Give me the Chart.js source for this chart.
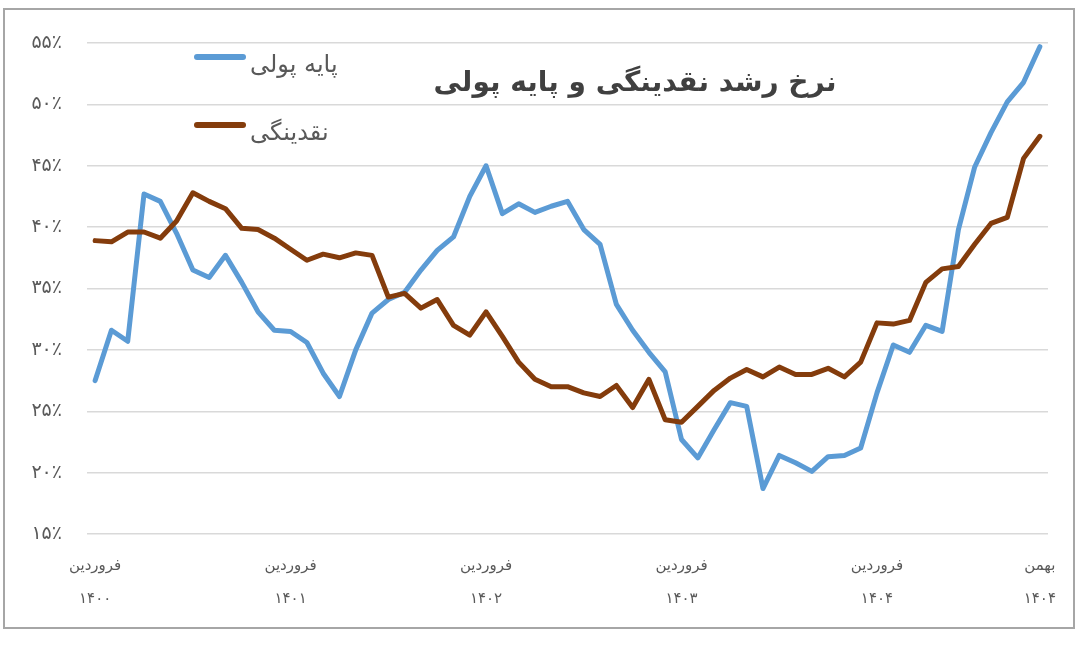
<!DOCTYPE html>
<html>
<head>
<meta charset="utf-8">
<script src="https://cdn.jsdelivr.net/npm/chart.js@4.4.1/dist/chart.umd.min.js"></script>
<style>
  html, body { margin: 0; padding: 0; background: #ffffff; }
  #wrap { position: relative; width: 1080px; height: 651px; }
  #frame { position: absolute; left: 3px; top: 8px; width: 1068px; height: 617px; border: 2px solid #a6a6a6; pointer-events: none; }
  canvas { position: absolute; left: 0; top: 0; }
</style>
</head>
<body>
<div id="wrap">
  <canvas id="c" width="1080" height="651"></canvas>
  <div id="frame"></div>
</div>
<script>
// ---- data ----
const months = ['فروردین','اردیبهشت','خرداد','تیر','مرداد','شهریور','مهر','آبان','آذر','دی','بهمن','اسفند'];
const years = ['۱۴۰۰','۱۴۰۱','۱۴۰۲','۱۴۰۳','۱۴۰۴'];
const lastMonthIndex = 10; // بهمن ۱۴۰۴

const titleText = 'نرخ رشد نقدینگی و پایه پولی';
const seriesNames = ['پایه پولی', 'نقدینگی'];

// پایه پولی (monetary base) growth, %
const baseMoney = [
  27.5, 31.6, 30.7, 42.7, 42.1, 39.5, 36.5, 35.9, 37.7, 35.5, 33.1, 31.6,
  31.5, 30.6, 28.1, 26.2, 30.0, 33.0, 34.1, 34.7, 36.5, 38.1, 39.2, 42.5,
  45.0, 41.1, 41.9, 41.2, 41.7, 42.1, 39.8, 38.6, 33.7, 31.6, 29.8, 28.2,
  22.7, 21.2, 23.5, 25.7, 25.4, 18.7, 21.4, 20.8, 20.1, 21.3, 21.4, 22.0,
  26.5, 30.4, 29.8, 32.0, 31.5, 39.8, 44.9, 47.7, 50.2, 51.8, 54.7
];
// نقدینگی (liquidity) growth, %
const liquidity = [
  38.9, 38.8, 39.6, 39.6, 39.1, 40.5, 42.8, 42.1, 41.5, 39.9, 39.8, 39.1,
  38.2, 37.3, 37.8, 37.5, 37.9, 37.7, 34.3, 34.6, 33.4, 34.1, 32.0, 31.2,
  33.1, 31.1, 29.0, 27.6, 27.0, 27.0, 26.5, 26.2, 27.1, 25.3, 27.6, 24.3,
  24.1, 25.4, 26.7, 27.7, 28.4, 27.8, 28.6, 28.0, 28.0, 28.5, 27.8, 29.0,
  32.2, 32.1, 32.4, 35.5, 36.6, 36.8, 38.6, 40.3, 40.8, 45.6, 47.4
];

const yMin = 15, yMax = 55, yStep = 5;

// categories: [month, year] for every month from فروردین ۱۴۰۰ to بهمن ۱۴۰۴
const categories = [];
years.forEach((y, yi) => {
  months.forEach((m, mi) => {
    if (yi === years.length - 1 && mi > lastMonthIndex) return;
    categories.push([m, y]);
  });
});

const toPersianDigits = s => String(s).replace(/\d/g, d => '۰۱۲۳۴۵۶۷۸۹'[d]);

const FONT = "'DejaVu Sans', 'Noto Sans', sans-serif";

const overlayPlugin = {
  id: 'overlay',
  afterDraw(chart) {
    const ctx = chart.ctx;
    ctx.save();
    // title
    ctx.font = "bold 28px " + FONT;
    ctx.fillStyle = '#404040';
    ctx.textAlign = 'center';
    ctx.textBaseline = 'middle';
    ctx.fillText(titleText, 635, 84);
    // legend
    const ys = [57, 125];
    chart.data.datasets.forEach((ds, i) => {
      const y = ys[i];
      ctx.strokeStyle = ds.borderColor;
      ctx.lineWidth = 6;
      ctx.lineCap = 'round';
      ctx.beginPath();
      ctx.moveTo(197, y);
      ctx.lineTo(243, y);
      ctx.stroke();
      ctx.font = "24px " + FONT;
      ctx.fillStyle = '#595959';
      ctx.textAlign = 'left';
      ctx.textBaseline = 'middle';
      ctx.fillText(ds.label, 250, y + 9);
    });
    ctx.restore();
  }
};

new Chart(document.getElementById('c'), {
  type: 'line',
  data: {
    labels: categories,
    datasets: [
      { label: seriesNames[0], data: baseMoney, borderColor: '#5b9bd5', borderWidth: 5,
        pointRadius: 0, tension: 0, fill: false, order: 1, borderJoinStyle: 'round', borderCapStyle: 'round' },
      { label: seriesNames[1], data: liquidity, borderColor: '#843c0c', borderWidth: 5,
        pointRadius: 0, tension: 0, fill: false, order: 0, borderJoinStyle: 'round', borderCapStyle: 'round' }
    ]
  },
  options: {
    responsive: false,
    animation: false,
    devicePixelRatio: 1,
    layout: { padding: { left: 0, right: 32, top: 43, bottom: 0 } },
    plugins: { legend: { display: false }, title: { display: false }, tooltip: { enabled: false } },
    scales: {
      x: {
        offset: true,
        grid: { display: false, drawTicks: false },
        border: { display: false },
        ticks: {
          autoSkip: false, maxRotation: 0, minRotation: 0, padding: 16,
          color: '#595959',
          font: { family: FONT, size: 15, lineHeight: '33px' },
          callback: function(val, idx) {
            const c = categories[idx];
            if (c[0] === months[0] || idx === categories.length - 1) return c;
            return '';
          }
        },
        afterFit: s => { s.height = 117; }
      },
      y: {
        min: yMin, max: yMax,
        grid: { color: '#d9d9d9', lineWidth: 1.5, drawTicks: false },
        border: { display: false },
        ticks: {
          stepSize: yStep, padding: 25, color: '#595959',
          font: { family: FONT, size: 19 },
          callback: v => toPersianDigits(v) + '٪'
        },
        afterFit: s => { s.width = 87; }
      }
    }
  },
  plugins: [overlayPlugin]
});
</script>
</body>
</html>
